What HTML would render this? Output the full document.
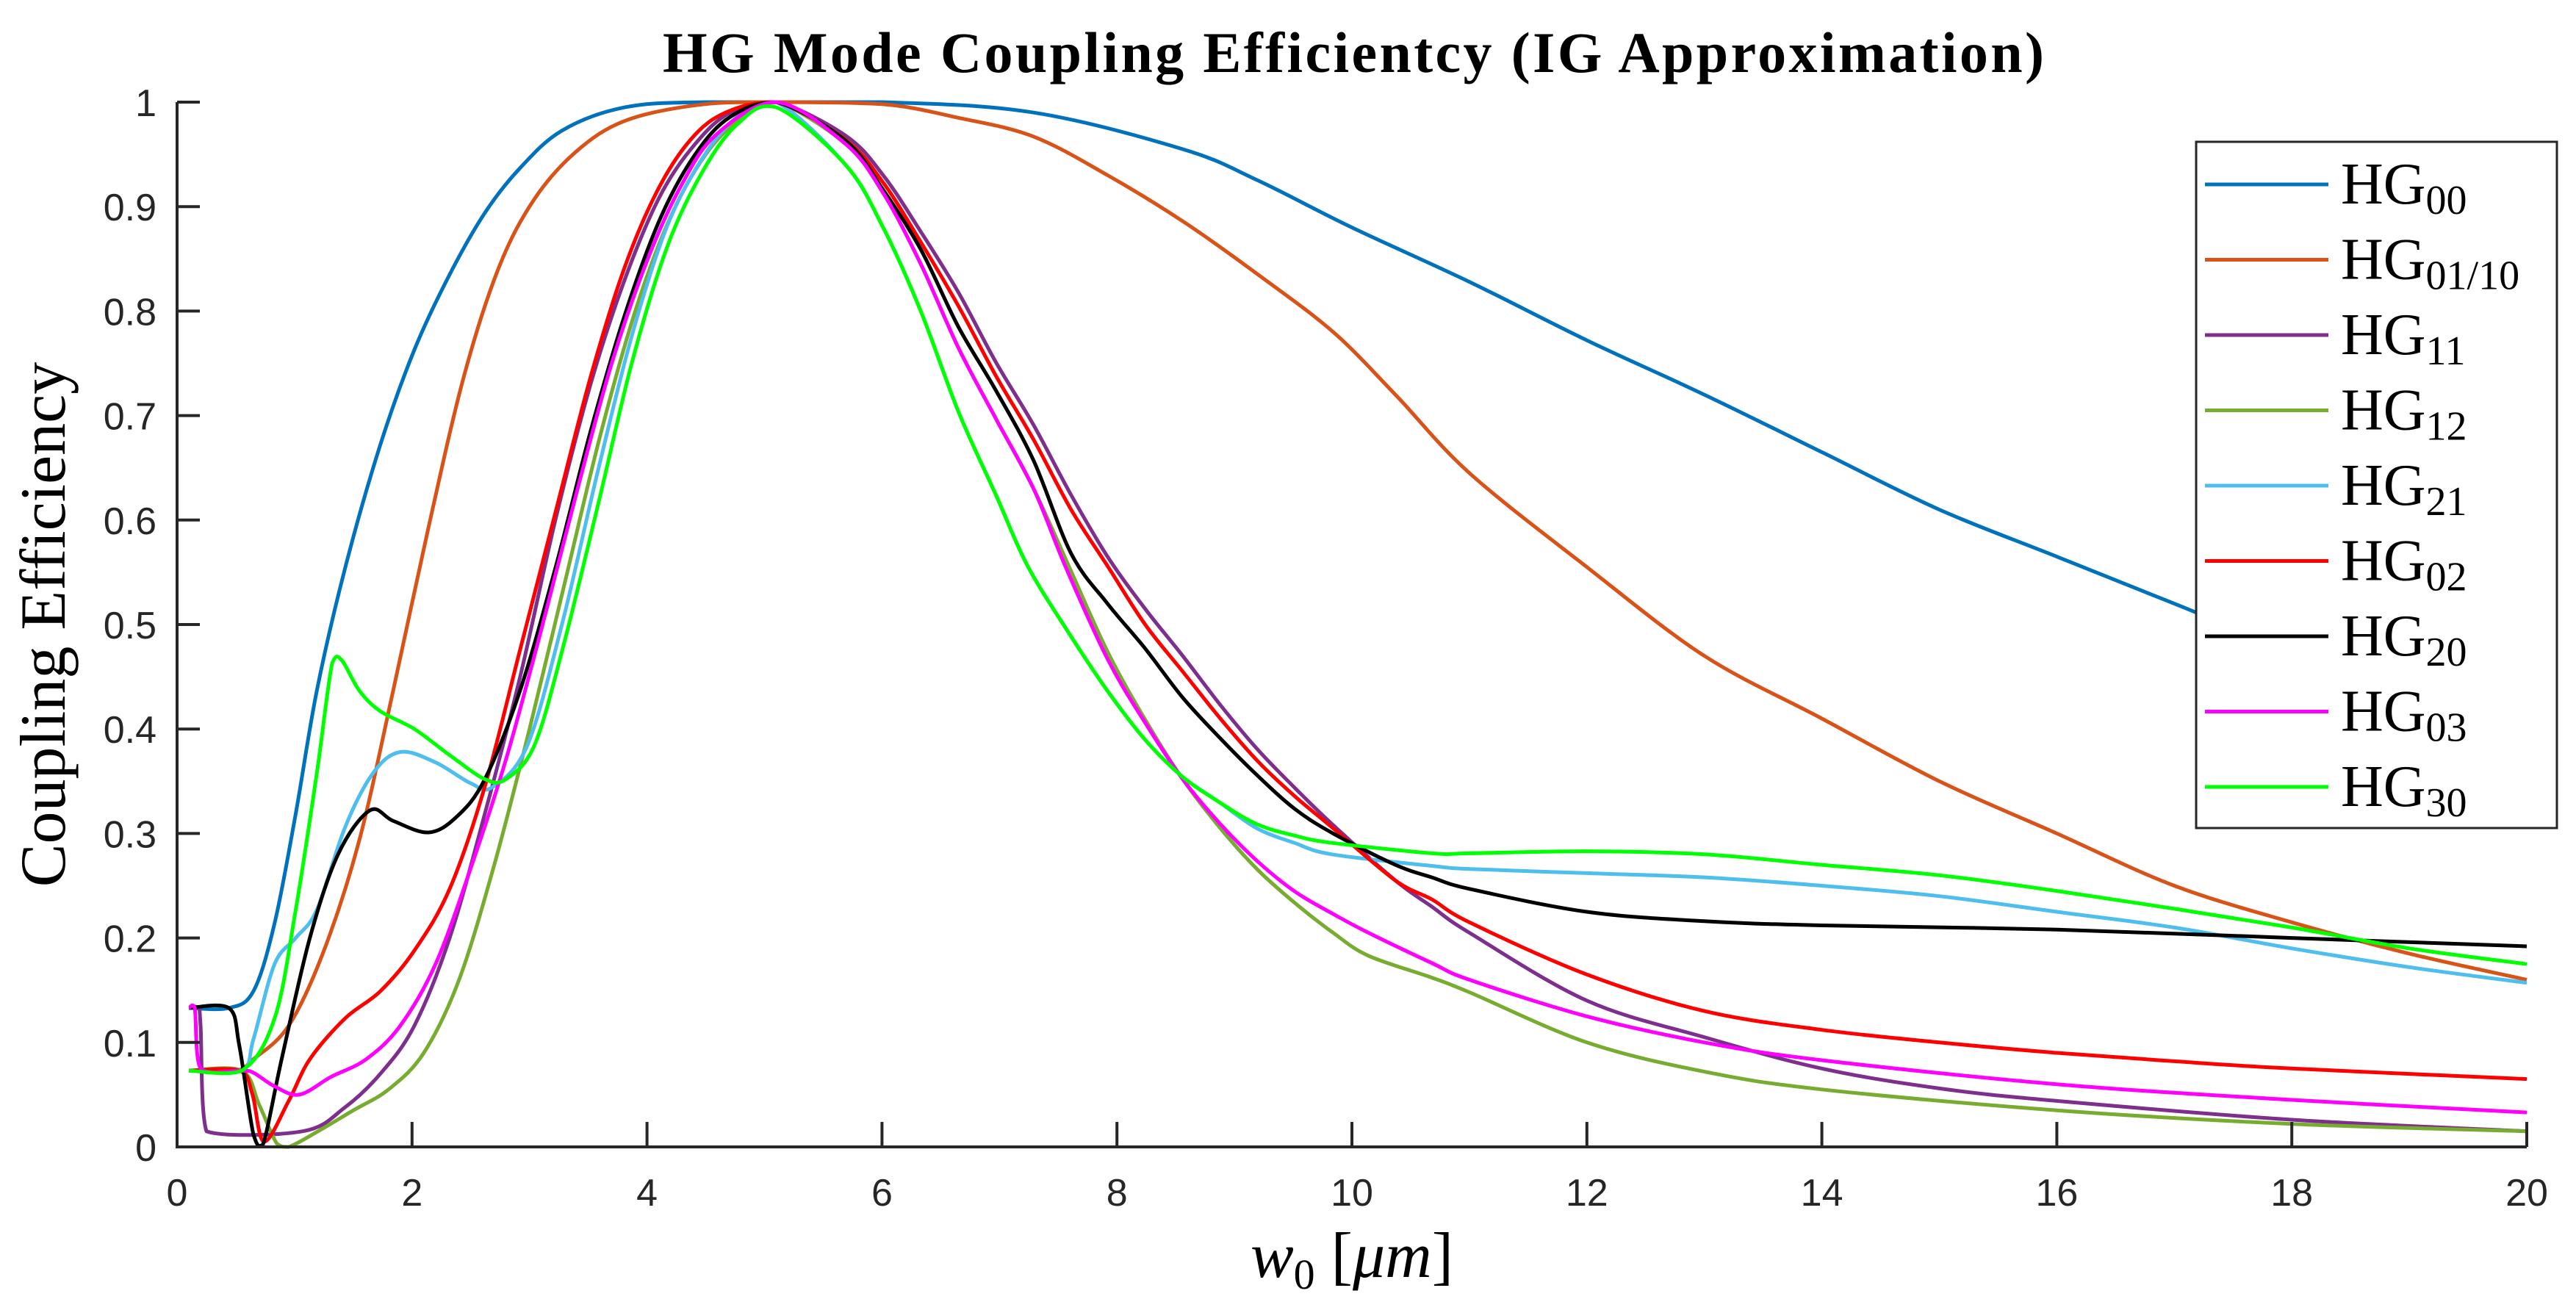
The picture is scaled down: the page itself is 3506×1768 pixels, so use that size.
<!DOCTYPE html>
<html><head><meta charset="utf-8"><style>
html,body{margin:0;padding:0;background:#fff}
svg{display:block}
</style></head><body>
<svg id="chart" width="3506" height="1768" viewBox="0 0 3506 1768" xmlns="http://www.w3.org/2000/svg">
<rect width="3506" height="1768" fill="#fff"/>
<text x="1842" y="98" text-anchor="middle" font-family="Liberation Serif, serif" font-weight="bold" font-size="78" textLength="1880">HG Mode Coupling Efficientcy (IG Approximation)</text>
<text transform="translate(88,850) rotate(-90)" text-anchor="middle" font-family="Liberation Serif, serif" font-size="88">Coupling Efficiency</text>
<text x="1840" y="1738" text-anchor="middle" font-family="Liberation Serif, serif" font-size="88"><tspan font-style="italic">w</tspan><tspan font-size="58" dy="16">0</tspan><tspan dy="-16"> [</tspan><tspan font-style="italic">μm</tspan>]</text>
<g id="plot"></g>
<g id="axes"></g>
<g id="legend"></g>
</svg>
<script>
const xTicks=[0,2,4,6,8,10,12,14,16,18,20];
const yTicks=[0,0.1,0.2,0.3,0.4,0.5,0.6,0.7,0.8,0.9,1];
const yTickLabels=["0","0.1","0.2","0.3","0.4","0.5","0.6","0.7","0.8","0.9","1"];
const seriesNames=["00","01/10","11","12","21","02","20","03","30"];
const seriesColors=["#0072bd","#d95319","#7e2f8e","#77ac30","#4dbeee","#ff0000","#000000","#ff00ff","#00ff00"];
const x00=[0.1,0.44,0.65,0.83,1.01,1.19,1.43,1.73,2.02,2.32,2.62,2.92,3.28,3.81,4.5,6,7.29,8.56,9.2,10,11,12,13,14,15,16,17,18,19,20];
const y00=[0.133,0.133,0.149,0.214,0.319,0.437,0.554,0.672,0.763,0.835,0.894,0.937,0.973,0.995,1.0,1.0,0.99,0.955,0.925,0.88,0.828,0.772,0.72,0.665,0.61,0.565,0.52,0.475,0.44,0.41];
const x01=[0.1,0.5,0.65,0.95,1.25,1.55,1.84,2.14,2.44,2.74,3.04,3.4,3.81,4.41,5,6,6.65,7.29,7.92,8.56,9.2,9.84,10.37,11,12,13,14,15,16,17,18,19,20];
const y01=[0.073,0.073,0.084,0.116,0.188,0.293,0.437,0.593,0.737,0.842,0.907,0.953,0.982,0.997,1.0,0.998,0.985,0.967,0.93,0.886,0.835,0.78,0.72,0.645,0.555,0.47,0.41,0.35,0.30,0.25,0.215,0.185,0.16];
const x11=[0.1,0.18,0.2,0.25,1.07,1.43,1.73,2.02,2.32,2.62,2.92,3.22,3.52,3.81,4.11,4.41,4.71,5.1,5.69,6.01,6.33,6.65,6.97,7.29,7.61,7.92,8.24,8.56,8.88,9.2,9.52,9.84,10.37,10.68,11,12,13,14,15,16,18,20];
const y11=[0.133,0.133,0.116,0.015,0.015,0.038,0.07,0.116,0.2,0.319,0.45,0.6,0.73,0.83,0.91,0.96,0.99,1.0,0.968,0.93,0.876,0.818,0.751,0.691,0.624,0.565,0.515,0.47,0.423,0.38,0.343,0.308,0.255,0.23,0.205,0.14,0.105,0.075,0.056,0.044,0.026,0.015];
const x12=[0.1,0.55,0.7,0.85,0.95,1.2,1.5,1.8,2.1,2.4,2.7,3.0,3.3,3.6,3.9,4.2,4.5,4.8,5.1,5.69,6.01,6.33,6.65,6.97,7.29,7.59,7.92,8.24,8.56,8.88,9.2,9.52,9.84,10.14,10.68,11,12,13,14,16,18,20];
const y12=[0.073,0.073,0.04,0.003,0.0,0.015,0.035,0.055,0.09,0.16,0.27,0.4,0.54,0.68,0.8,0.89,0.95,0.985,1.0,0.96,0.913,0.845,0.765,0.697,0.63,0.556,0.474,0.409,0.352,0.305,0.265,0.233,0.205,0.183,0.162,0.148,0.1,0.072,0.055,0.035,0.022,0.015];
const x21=[0.1,0.55,0.65,0.83,1.01,1.19,1.43,1.67,1.9,2.2,2.5,2.68,2.98,3.28,3.58,3.87,4.17,4.47,4.77,5.1,5.69,6.01,6.33,6.65,6.97,7.24,7.59,7.91,8.23,8.55,8.87,9.19,9.51,9.83,10.68,11,12,13,14,15,16,17,18,19,20];
const y21=[0.073,0.073,0.103,0.175,0.2,0.227,0.306,0.358,0.378,0.368,0.348,0.344,0.384,0.502,0.646,0.776,0.881,0.946,0.986,1.0,0.94,0.88,0.8,0.704,0.624,0.556,0.492,0.438,0.391,0.355,0.33,0.305,0.291,0.28,0.269,0.266,0.262,0.258,0.25,0.24,0.225,0.21,0.19,0.172,0.157];
const x02=[0.1,0.53,0.64,0.74,0.95,1.13,1.43,1.73,2.02,2.32,2.62,2.92,3.22,3.52,3.81,4.11,4.41,4.71,5.1,5.69,6.01,6.33,6.65,6.97,7.29,7.61,7.92,8.24,8.56,8.88,9.2,9.52,9.84,10.37,10.68,11,12,13,14,15,16,17,18,20];
const y02=[0.073,0.073,0.051,0.005,0.044,0.084,0.123,0.149,0.188,0.247,0.345,0.476,0.607,0.737,0.842,0.92,0.969,0.992,1.0,0.964,0.923,0.866,0.805,0.738,0.677,0.61,0.556,0.5,0.455,0.41,0.369,0.335,0.305,0.255,0.237,0.215,0.165,0.13,0.112,0.1,0.09,0.082,0.075,0.065];
const x20=[0.1,0.44,0.53,0.65,0.73,0.89,1.13,1.37,1.64,1.84,2.14,2.38,2.62,2.92,3.22,3.52,3.81,4.11,4.41,4.71,5.1,5.69,6.01,6.33,6.65,6.97,7.29,7.61,7.92,8.24,8.56,8.88,9.2,9.52,9.84,10.37,10.68,11,12,13,14,16,18,20];
const y20=[0.133,0.133,0.097,0.012,0.002,0.084,0.2,0.28,0.322,0.312,0.301,0.316,0.352,0.437,0.554,0.685,0.796,0.888,0.95,0.986,1.0,0.963,0.916,0.859,0.785,0.724,0.657,0.568,0.52,0.477,0.43,0.391,0.355,0.323,0.3,0.27,0.258,0.247,0.225,0.216,0.212,0.208,0.2,0.192];
const x03=[0.1,0.15,0.2,0.55,0.65,0.83,1.04,1.31,1.61,1.9,2.2,2.5,2.8,3.1,3.4,3.7,4.0,4.29,4.59,5.1,5.69,6.01,6.33,6.65,6.97,7.29,7.56,7.92,8.24,8.56,8.88,9.2,9.52,9.84,10.14,10.68,11,12,13,14,16,18,20];
const y03=[0.133,0.133,0.075,0.073,0.071,0.058,0.05,0.067,0.084,0.116,0.175,0.267,0.371,0.495,0.626,0.75,0.848,0.92,0.969,1.0,0.96,0.913,0.845,0.765,0.697,0.63,0.556,0.467,0.406,0.352,0.309,0.273,0.244,0.223,0.205,0.176,0.16,0.125,0.1,0.083,0.06,0.045,0.033];
const x30=[0.1,0.55,0.83,1.01,1.19,1.32,1.4,1.55,1.73,2.02,2.32,2.62,2.8,3.04,3.28,3.58,3.87,4.17,4.47,4.77,5.1,5.69,6.01,6.33,6.65,6.97,7.24,7.59,7.91,8.23,8.55,8.87,9.19,9.51,9.83,10.68,11,12,13,14,15,16,17,18,19,20];
const y30=[0.073,0.073,0.123,0.227,0.358,0.463,0.466,0.437,0.417,0.4,0.375,0.352,0.352,0.384,0.476,0.613,0.75,0.861,0.933,0.979,0.995,0.94,0.88,0.8,0.704,0.624,0.556,0.492,0.438,0.391,0.355,0.33,0.309,0.298,0.291,0.281,0.281,0.283,0.28,0.27,0.26,0.245,0.228,0.21,0.19,0.175];
const seriesX=[x00,x01,x11,x12,x21,x02,x20,x03,x30];
const seriesY=[y00,y01,y11,y12,y21,y02,y20,y03,y30];

const NS="http://www.w3.org/2000/svg";
const L=241,R=3439,T=139,B=1561;
function sx(v){return L+(v-0)/(20-0)*(R-L);}
function sy(v){return B-(v-0)/(1-0)*(B-T);}
function mk(tag,attrs,parent){const e=document.createElementNS(NS,tag);for(const k in attrs)e.setAttribute(k,attrs[k]);parent.appendChild(e);return e;}
function pathFor(xs,ys){
  const p=xs.map((x,i)=>[sx(x),sy(ys[i])]);
  let d="M"+p[0][0].toFixed(1)+","+p[0][1].toFixed(1);
  for(let i=0;i<p.length-1;i++){
    const p0=p[Math.max(0,i-1)],p1=p[i],p2=p[i+1],p3=p[Math.min(p.length-1,i+2)];
    const t=1/6;
    let c1x=p1[0]+(p2[0]-p0[0])*t,c1y=p1[1]+(p2[1]-p0[1])*t;
    let c2x=p2[0]-(p3[0]-p1[0])*t,c2y=p2[1]-(p3[1]-p1[1])*t;
    c1x=Math.min(Math.max(c1x,p1[0]),p2[0]);c2x=Math.min(Math.max(c2x,p1[0]),p2[0]);
    const lo=Math.min(p1[1],p2[1])-8,hi=Math.max(p1[1],p2[1])+8;
    c1y=Math.min(Math.max(c1y,Math.max(lo,T)),Math.min(hi,B));c2y=Math.min(Math.max(c2y,Math.max(lo,T)),Math.min(hi,B));
    d+=" C"+c1x.toFixed(1)+","+c1y.toFixed(1)+" "+c2x.toFixed(1)+","+c2y.toFixed(1)+" "+p2[0].toFixed(1)+","+p2[1].toFixed(1);
  }
  return d;
}
const plot=document.getElementById('plot');
seriesX.forEach((xs,i)=>{
  const el=mk('path',{d:pathFor(xs,seriesY[i]),fill:'none',stroke:seriesColors[i],'stroke-width':5,'stroke-linejoin':'round'},plot);
  
  
});
const axes=document.getElementById('axes');
const ax=mk('path',{d:`M${L},${T} L${L},${B} L${R},${B}`,fill:'none',stroke:'#262626','stroke-width':4},axes);


xTicks.forEach(v=>{
  const t=mk('line',{x1:sx(v),x2:sx(v),y1:B,y2:B-34,stroke:'#262626','stroke-width':4},axes);
  
  
  const lb=mk('text',{x:sx(v),y:B+80,'text-anchor':'middle','font-family':'Liberation Sans, sans-serif','font-size':52,fill:'#262626'},axes);
  lb.textContent=String(v);
  
  
});
yTicks.forEach((v,i)=>{
  const t=mk('line',{x1:L,x2:L+31,y1:sy(v),y2:sy(v),stroke:'#262626','stroke-width':4},axes);
  
  
  const lb=mk('text',{x:213,y:sy(v)+19,'text-anchor':'end','font-family':'Liberation Sans, sans-serif','font-size':52,fill:'#262626'},axes);
  lb.textContent=yTickLabels[i];
  
  
});
const lg=document.getElementById('legend');
const box=mk('rect',{x:2989,y:193,width:491,height:934,fill:'#fff',stroke:'#262626','stroke-width':3},lg);


seriesNames.forEach((n,i)=>{
  const y=251+i*102.5;
  const ln=mk('line',{x1:3001,x2:3169,y1:y,y2:y,stroke:seriesColors[i],'stroke-width':5},lg);
  
  
  const tx=mk('text',{x:3186,y:y+26,'font-family':'Liberation Serif, serif','font-size':80,fill:'#000'},lg);
  
  
  const a=document.createElementNS(NS,'tspan');a.textContent='HG';tx.appendChild(a);
  const b=document.createElementNS(NS,'tspan');b.setAttribute('font-size','56');b.setAttribute('dy','14');b.textContent=n;tx.appendChild(b);
});
</script>
</body></html>
